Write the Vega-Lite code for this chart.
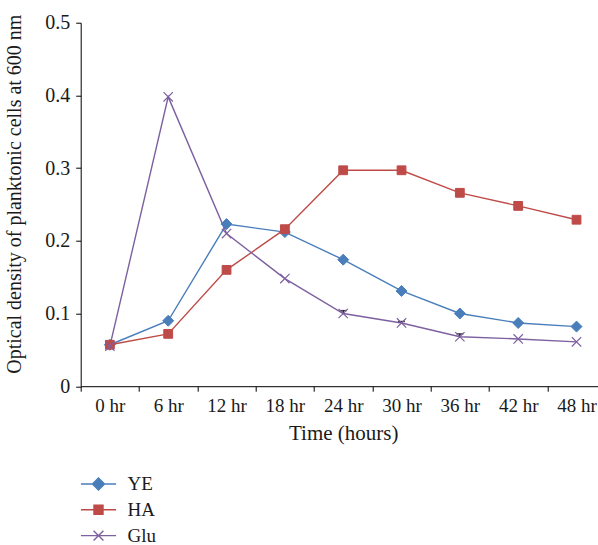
{
  "$schema": "https://vega.github.io/schema/vega-lite/v6.json",
  "autosize": {"type": "none"},
  "padding": {"left": 80.7, "top": 22.7, "right": 0, "bottom": 158.8},
  "width": 525,
  "height": 363.5,
  "background": "white",
  "config": {
    "view": {"stroke": null},
    "font": "Liberation Serif",
    "axis": {"labelFont": "Liberation Serif", "titleFont": "Liberation Serif", "labelColor": "#1a1a1a", "titleColor": "#1a1a1a", "domainColor": "#000", "tickColor": "#000", "grid": false, "titleFontWeight": "normal"},
    "legend": {"labelFont": "Liberation Serif"}
  },
  "data": {
    "values": [
      {"time": "0 hr", "series": "YE", "od": 0.057},
      {"time": "6 hr", "series": "YE", "od": 0.090},
      {"time": "12 hr", "series": "YE", "od": 0.223},
      {"time": "18 hr", "series": "YE", "od": 0.212},
      {"time": "24 hr", "series": "YE", "od": 0.174},
      {"time": "30 hr", "series": "YE", "od": 0.131},
      {"time": "36 hr", "series": "YE", "od": 0.100},
      {"time": "42 hr", "series": "YE", "od": 0.087},
      {"time": "48 hr", "series": "YE", "od": 0.082},
      {"time": "0 hr", "series": "HA", "od": 0.057},
      {"time": "6 hr", "series": "HA", "od": 0.072},
      {"time": "12 hr", "series": "HA", "od": 0.160},
      {"time": "18 hr", "series": "HA", "od": 0.216},
      {"time": "24 hr", "series": "HA", "od": 0.297},
      {"time": "30 hr", "series": "HA", "od": 0.297},
      {"time": "36 hr", "series": "HA", "od": 0.266},
      {"time": "42 hr", "series": "HA", "od": 0.248},
      {"time": "48 hr", "series": "HA", "od": 0.229},
      {"time": "0 hr", "series": "Glu", "od": 0.055},
      {"time": "6 hr", "series": "Glu", "od": 0.398},
      {"time": "12 hr", "series": "Glu", "od": 0.210},
      {"time": "18 hr", "series": "Glu", "od": 0.148},
      {"time": "24 hr", "series": "Glu", "od": 0.100, "hi": 0.104},
      {"time": "30 hr", "series": "Glu", "od": 0.087, "hi": 0.089},
      {"time": "36 hr", "series": "Glu", "od": 0.068, "hi": 0.072},
      {"time": "42 hr", "series": "Glu", "od": 0.065},
      {"time": "48 hr", "series": "Glu", "od": 0.061}
    ]
  },
  "encoding": {
    "x": {
      "field": "time", "type": "nominal", "sort": null,
      "scale": {"type": "band", "paddingInner": 0, "paddingOuter": 0},
      "axis": {"title": "Time (hours)", "labelAngle": 0, "labelFontSize": 19, "titleFontSize": 21, "tickBand": "extent", "tickSize": 5, "labelPadding": 5, "titlePadding": 7, "titleX": 262.5}
    },
    "y": {
      "field": "od", "type": "quantitative",
      "scale": {"domain": [0, 0.5], "nice": false},
      "axis": {"title": "Optical density of planktonic cells at 600 nm", "values": [0, 0.1, 0.2, 0.3, 0.4, 0.5], "format": "~g", "labelFontSize": 20, "titleFontSize": 20, "tickSize": 5, "labelPadding": 6, "titleX": -55.7, "titleY": 171}
    }
  },
  "layer": [
    {
      "mark": {"type": "line", "strokeWidth": 1.4},
      "encoding": {
        "color": {
          "field": "series", "type": "nominal",
          "scale": {"domain": ["YE", "HA", "Glu"], "range": ["#4a7ebb", "#be4b48", "#7d60a0"]},
          "legend": {
            "title": null, "orient": "none", "legendX": 5.8, "legendY": 449.3,
            "direction": "vertical", "padding": 0, "symbolSize": 484, "rowPadding": 3.8,
            "labelOffset": 17, "labelFontSize": 19, "labelColor": "#1a1a1a",
            "symbolStrokeWidth": 1.4,
            "encode": {
              "symbols": {
                "update": {
                  "shape": {"signal": "datum.value === 'YE' ? 'M-1.6,0H1.6M0,-0.55L0.55,0L0,0.55L-0.55,0Z' : datum.value === 'HA' ? 'M-1.6,0H1.6M-0.41,-0.41H0.41V0.41H-0.41Z' : 'M-1.6,0H1.6M-0.45,-0.45L0.45,0.45M-0.45,0.45L0.45,-0.45'"},
                  "stroke": {"signal": "datum.value === 'YE' ? '#4a7ebb' : datum.value === 'HA' ? '#be4b48' : '#7d60a0'"},
                  "fill": {"signal": "datum.value === 'YE' ? '#4a7ebb' : datum.value === 'HA' ? '#be4b48' : '#7d60a0'"},
                  "strokeWidth": {"value": 1.4},
                  "opacity": {"value": 1}
                }
              }
            }
          }
        },
        "detail": {"field": "series"}
      }
    },
    {
      "transform": [{"filter": "isValid(datum.hi)"}],
      "mark": {"type": "rule", "color": "#000", "strokeWidth": 1.2},
      "encoding": {"y2": {"field": "hi"}}
    },
    {
      "transform": [{"filter": "isValid(datum.hi)"}],
      "mark": {"type": "tick", "color": "#000", "thickness": 1.4, "size": 7},
      "encoding": {"y": {"field": "hi", "type": "quantitative"}}
    },
    {
      "transform": [{"filter": "datum.series === 'YE'"}],
      "mark": {"type": "point", "filled": true, "opacity": 1, "size": 121, "shape": "M0,-1L1,0L0,1L-1,0Z", "fill": "#4a7ebb", "stroke": "#4a7ebb", "strokeWidth": 1}
    },
    {
      "transform": [{"filter": "datum.series === 'HA'"}],
      "mark": {"type": "point", "filled": true, "opacity": 1, "size": 121, "shape": "M-0.8,-0.8H0.8V0.8H-0.8Z", "fill": "#be4b48", "stroke": "#be4b48", "strokeWidth": 1}
    },
    {
      "transform": [{"filter": "datum.series === 'Glu'"}],
      "mark": {"type": "point", "filled": false, "opacity": 1, "size": 121, "shape": "M-0.85,-0.85L0.85,0.85M-0.85,0.85L0.85,-0.85", "stroke": "#7d60a0", "strokeWidth": 1.2}
    }
  ]
}
